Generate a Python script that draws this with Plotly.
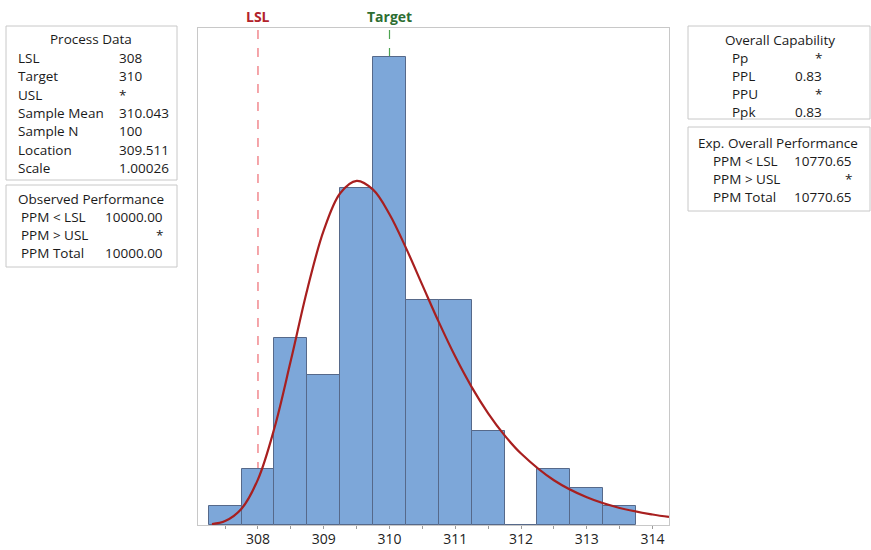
import plotly.graph_objects as go

# ---------------- data ----------------
bin_centers = [307.5, 308.0, 308.5, 309.0, 309.5, 310.0, 310.5, 311.0, 311.5, 312.0, 312.5, 313.0, 313.5]
counts = [1, 3, 10, 8, 18, 25, 12, 12, 5, 0, 3, 2, 1]
bin_width = 0.5

# fitted (largest extreme value) density, scaled to counts
curve_x = [307.3, 307.5, 307.75, 308.0, 308.25, 308.5, 308.75, 309.0, 309.25, 309.5, 309.75,
           310.0, 310.25, 310.5, 310.75, 311.0, 311.25, 311.5, 311.75, 312.0, 312.5, 313.0,
           313.5, 314.0, 314.25]
curve_y = [0.05, 0.21, 0.87, 2.44, 5.18, 8.80, 12.59, 15.74, 17.73, 18.39, 17.92,
           16.61, 14.81, 12.82, 10.84, 9.00, 7.37, 5.97, 4.79, 3.82, 2.39, 1.48,
           0.91, 0.56, 0.43]

LSL = 308
TARGET = 310

process_labels = ["LSL", "Target", "USL", "Sample Mean", "Sample N", "Location", "Scale"]
process_values = ["308", "310", "*", "310.043", "100", "309.511", "1.00026"]

observed_labels = ["PPM < LSL", "PPM > USL", "PPM Total"]
observed_values = ["10000.00", "*", "10000.00"]

capability_labels = ["Pp", "PPL", "PPU", "Ppk"]
capability_values = ["*", "0.83", "*", "0.83"]

expected_labels = ["PPM < LSL", "PPM > USL", "PPM Total"]
expected_values = ["10770.65", "*", "10770.65"]

# ---------------- layout geometry (pixels) ----------------
W, H = 871, 550
PL, PR, PT, PB = 198, 669, 28, 525


def px(X):
    return (X - PL) / (PR - PL)


def py(Y):
    return (PB - Y) / (PB - PT)


FONT = "Open Sans"
FS = 13.5
TXT = "#1a1a1a"

fig = go.Figure()

fig.add_trace(go.Bar(
    x=bin_centers, y=counts, width=bin_width,
    marker=dict(color="#7DA7D9", line=dict(color="#56698A", width=1)),
    hoverinfo="x+y", showlegend=False,
))

fig.add_trace(go.Scatter(
    x=curve_x, y=curve_y, mode="lines", line=dict(color="#A81F1F", width=2.2, shape="spline"),
    showlegend=False, hoverinfo="skip",
))

shapes = []
annotations = []

# spec lines (behind bars)
shapes.append(dict(type="line", xref="x", yref="paper", x0=LSL, x1=LSL, y0=0, y1=1,
                   line=dict(color="#EE6B73", width=1.2, dash="dash"), layer="below"))
shapes.append(dict(type="line", xref="x", yref="paper", x0=TARGET, x1=TARGET, y0=0, y1=1,
                   line=dict(color="#4DA352", width=1.2, dash="dash"), layer="below"))
annotations.append(dict(x=LSL, xref="x", y=py(16), yref="paper", text="<b>LSL</b>", showarrow=False,
                        font=dict(family=FONT, size=14, color="#B2232B"), xanchor="center", yanchor="middle"))
annotations.append(dict(x=TARGET, xref="x", y=py(16), yref="paper", text="<b>Target</b>", showarrow=False,
                        font=dict(family=FONT, size=14, color="#2D6E32"), xanchor="center", yanchor="middle"))


def box(x0, y0, x1, y1):
    shapes.append(dict(type="rect", xref="paper", yref="paper",
                       x0=px(x0), x1=px(x1), y0=py(y0), y1=py(y1),
                       line=dict(color="#C8C8C8", width=1), fillcolor="white", layer="above"))


def text(X, Y, s, anchor="left"):
    annotations.append(dict(x=px(X), y=py(Y), xref="paper", yref="paper", text=s, showarrow=False,
                            xanchor=anchor, yanchor="middle",
                            font=dict(family=FONT, size=FS, color=TXT, weight=500)))


# Process Data
box(6, 26, 177, 180)
text(91, 39, "Process Data", "center")
for i, (l, v) in enumerate(zip(process_labels, process_values)):
    Y = 58 + i * 18.3
    text(16, Y, l)
    text(117, Y, v)

# Observed Performance
box(6, 185, 177, 267)
text(91, 199, "Observed Performance", "center")
for i, (l, v) in enumerate(zip(observed_labels, observed_values)):
    Y = 217 + i * 18
    text(19, Y, l)
    text(165, Y, v, "right")

# Overall Capability
box(688, 26, 870, 119)
text(780, 40, "Overall Capability", "center")
for i, (l, v) in enumerate(zip(capability_labels, capability_values)):
    Y = 58 + i * 18
    text(730, Y, l)
    text(824, Y, v, "right")

# Exp. Overall Performance
box(688, 127, 870, 211)
text(778, 143, "Exp. Overall Performance", "center")
for i, (l, v) in enumerate(zip(expected_labels, expected_values)):
    Y = 161 + i * 18
    text(711, Y, l)
    text(854, Y, v, "right")

fig.update_layout(
    width=W, height=H,
    margin=dict(l=PL, r=W - PR, t=PT, b=H - PB, pad=0, autoexpand=False),
    paper_bgcolor="white", plot_bgcolor="white",
    bargap=0,
    shapes=shapes, annotations=annotations,
    font=dict(family=FONT, color=TXT),
    xaxis=dict(range=[307.088, 314.25], tickmode="linear", tick0=308, dtick=1,
               ticks="outside", ticklen=3, tickcolor="#9A9A9A", tickwidth=1,
               minor=dict(tick0=307.5, dtick=0.5, ticks="outside", ticklen=3, tickcolor="#9A9A9A"),
               showgrid=False, zeroline=False, automargin=False,
               showline=True, linecolor="#C8C8C8", linewidth=1, mirror=True,
               ticklabelstandoff=-2,
               tickfont=dict(family=FONT, size=14, color="#222222", weight=500)),
    yaxis=dict(range=[0, 26.56], showticklabels=False, ticks="", showgrid=False, zeroline=False,
               automargin=False,
               showline=True, linecolor="#C8C8C8", linewidth=1, mirror=True),
)

fig.write_html("out.html")
